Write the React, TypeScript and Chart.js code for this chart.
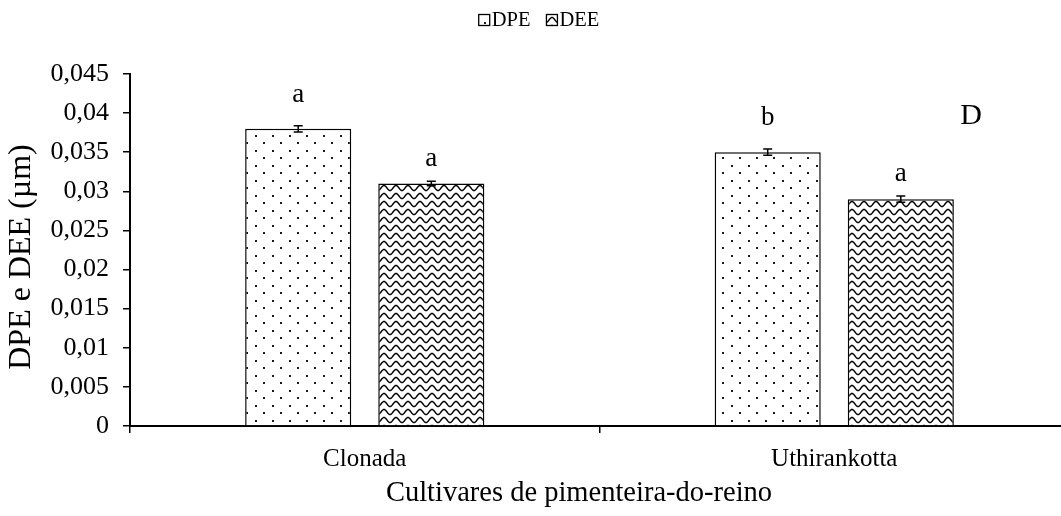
import React, { useEffect, useRef } from "react";
import { Chart, registerables } from "chart.js";

Chart.register(...registerables);

const categories = ["Clonada", "Uthirankotta"];
const seriesNames = ["DPE", "DEE"];
const dpeValues = [0.038, 0.035];
const deeValues = [0.031, 0.029];
const dpeErrors = [0.0004, 0.0004];
const deeErrors = [0.0003, 0.0004];
const dpeLetters = ["a", "b"];
const deeLetters = ["a", "a"];
const yTickLabels = ["0", "0,005", "0,01", "0,015", "0,02", "0,025", "0,03", "0,035", "0,04", "0,045"];
const yTitle = "DPE e DEE (µm)";
const xTitle = "Cultivares de pimenteira-do-reino";
const panelLabel = "D";

const FONT = "'Liberation Serif', 'Times New Roman', serif";

function makeDotPattern(ctx: CanvasRenderingContext2D) {
  const c = document.createElement("canvas");
  c.width = 17;
  c.height = 15;
  const g = c.getContext("2d")!;
  g.fillStyle = "#ffffff";
  g.fillRect(0, 0, 17, 15);
  g.fillStyle = "#1a1a1a";
  g.fillRect(0, 0, 2, 2);
  g.fillRect(8, 7, 2, 2);
  return ctx.createPattern(c, "repeat")!;
}

function makeWavePattern(ctx: CanvasRenderingContext2D) {
  const w = 12;
  const h = 8;
  const c = document.createElement("canvas");
  c.width = w;
  c.height = h;
  const g = c.getContext("2d")!;
  g.fillStyle = "#ffffff";
  g.fillRect(0, 0, w, h);
  g.strokeStyle = "#000000";
  g.lineWidth = 1.5;
  for (const off of [0, h]) {
    g.beginPath();
    for (let x = -1; x <= w + 1; x += 0.5) {
      const y = off + 4 - 2.5 * Math.cos((2 * Math.PI * x) / w);
      if (x === -1) g.moveTo(x, y);
      else g.lineTo(x, y);
    }
    g.stroke();
  }
  return ctx.createPattern(c, "repeat")!;
}

export default function App() {
  const ref = useRef<HTMLCanvasElement | null>(null);

  useEffect(() => {
    document.body.style.margin = "0";
    const canvas = ref.current!;
    const ctx = canvas.getContext("2d")!;
    const dotPat = makeDotPattern(ctx);
    const wavePat = makeWavePattern(ctx);
    const errors = [dpeErrors, deeErrors];
    const letters = [dpeLetters, deeLetters];
    const letterOffsets = [34, 25];
    const fills = [dotPat, wavePat];

    const overlay = {
      id: "overlay",
      afterDatasetsDraw(chart: any) {
        const c = chart.ctx as CanvasRenderingContext2D;
        const yScale = chart.scales.y;
        c.save();
        chart.data.datasets.forEach((ds: any, di: number) => {
          const meta = chart.getDatasetMeta(di);
          meta.data.forEach((bar: any, i: number) => {
            const v = ds.data[i];
            const e = errors[di][i];
            const x = bar.x;
            const yTop = yScale.getPixelForValue(v + e);
            const yBot = yScale.getPixelForValue(v - e);
            c.strokeStyle = "#000";
            c.lineWidth = 1.5;
            c.beginPath();
            c.moveTo(x, yTop);
            c.lineTo(x, yBot);
            c.moveTo(x - 4.5, yTop);
            c.lineTo(x + 4.5, yTop);
            c.moveTo(x - 4.5, yBot);
            c.lineTo(x + 4.5, yBot);
            c.stroke();
            c.fillStyle = "#000";
            c.font = `27px ${FONT}`;
            c.textAlign = "center";
            c.textBaseline = "middle";
            c.fillText(letters[di][i], x, bar.y - letterOffsets[di]);
          });
        });
        const area = chart.chartArea;
        c.fillStyle = "#000";
        c.font = `30px ${FONT}`;
        c.textAlign = "center";
        c.textBaseline = "middle";
        c.fillText(panelLabel, 971, area.top + 42);

        // axis titles
        c.font = `28.5px ${FONT}`;
        c.fillText(xTitle, 579, 494);
        c.save();
        c.translate(22, 257);
        c.rotate(-Math.PI / 2);
        c.font = `32px ${FONT}`;
        c.fillText(yTitle, 0, 0);
        c.restore();

        // legend
        c.font = `20.5px ${FONT}`;
        c.textBaseline = "middle";
        c.textAlign = "left";
        const box = 11;
        const gapBoxText = 2;
        const gapItems = 16;
        const widths = seriesNames.map((n) => box + gapBoxText + c.measureText(n).width);
        const total = widths.reduce((a, b) => a + b, 0) + gapItems * (widths.length - 1);
        let lx = 539 - total / 2;
        const ly = 20;
        seriesNames.forEach((n, k) => {
          c.fillStyle = fills[k];
          c.fillRect(lx, ly - box / 2, box, box);
          c.strokeStyle = "#000";
          c.lineWidth = 1.3;
          c.strokeRect(lx, ly - box / 2, box, box);
          c.fillStyle = "#000";
          c.fillText(n, lx + box + gapBoxText, ly + 1);
          lx += widths[k] + gapItems;
        });
        c.restore();
      },
    };

    const chart = new Chart(canvas, {
      type: "bar",
      data: {
        labels: categories,
        datasets: [
          {
            label: seriesNames[0],
            data: dpeValues,
            backgroundColor: dotPat as any,
            borderColor: "#000",
            borderWidth: 1.5,
          },
          {
            label: seriesNames[1],
            data: deeValues,
            backgroundColor: wavePat as any,
            borderColor: "#000",
            borderWidth: 1.5,
          },
        ],
      },
      options: {
        responsive: false,
        animation: false,
        events: [],
        layout: { padding: { top: 74, right: 0, left: 0, bottom: 0 } },
        datasets: { bar: { categoryPercentage: 0.567, barPercentage: 0.797 } },
        plugins: {
          legend: { display: false },
          tooltip: { enabled: false },
          title: { display: false },
        },
        scales: {
          x: {
            grid: {
              drawOnChartArea: false,
              tickLength: 7,
              color: "#000",
              lineWidth: 1.5,
              offset: true,
            },
            border: { display: true, color: "#000", width: 2 },
            ticks: {
              color: "#000",
              font: { family: FONT, size: 25 },
              padding: 11,
            },
            title: { display: false },
            afterFit(scale: any) {
              scale.height = 90;
            },
          },
          y: {
            min: 0,
            max: 0.045,
            grid: {
              drawOnChartArea: false,
              tickLength: 7,
              color: "#000",
              lineWidth: 1.5,
            },
            border: { display: true, color: "#000", width: 2 },
            ticks: {
              stepSize: 0.005,
              color: "#000",
              font: { family: FONT, size: 26 },
              padding: 14,
              callback: (_v: any, i: number) => yTickLabels[i],
            },
            title: { display: false },
            afterFit(scale: any) {
              scale.width = 130;
            },
          },
        },
      },
      plugins: [overlay],
    });
    return () => chart.destroy();
  }, []);

  return (
    <div style={{ position: "absolute", left: 0, top: 0, width: 1061, height: 516, overflow: "hidden" }}>
      <canvas ref={ref} width={1069} height={516} />
    </div>
  );
}
